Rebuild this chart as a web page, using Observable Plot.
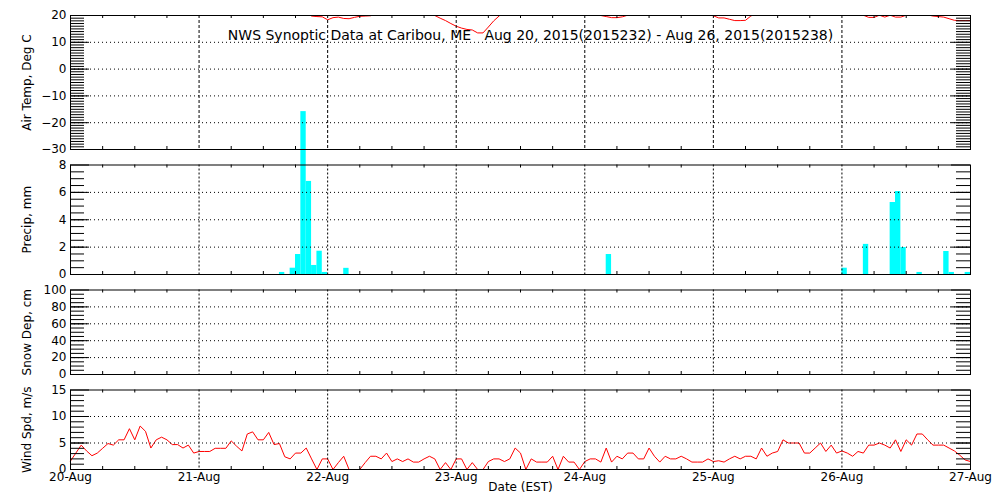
<!DOCTYPE html>
<html><head><meta charset="utf-8">
<script src="https://cdn.jsdelivr.net/npm/d3@7"></script>
<script src="https://cdn.jsdelivr.net/npm/@observablehq/plot@0.6"></script>
<style>
body{margin:0;background:#fff;}
#chart{position:relative;width:1000px;height:500px;background:#fff;}
#chart svg{position:absolute;left:0;top:0;overflow:visible;}
</style></head><body><div id="chart"></div>
<script>
// ---------- data ----------
const startDay = Date.UTC(2015, 7, 20);          // Aug 20 2015, 00:00 EST shown on axis
const HOUR = 3600e3;
const dayTicks = [20, 21, 22, 23, 24, 25, 26, 27].map(d => new Date(Date.UTC(2015, 7, d)));
const dayLabels = ["20-Aug", "21-Aug", "22-Aug", "23-Aug", "24-Aug", "25-Aug", "26-Aug", "27-Aug"];
const title = "NWS Synoptic Data at Caribou, ME   Aug 20, 2015(2015232) - Aug 26, 2015(2015238)";

// hourly air temperature, deg C (hour 0 = Aug 20 00:00)
const airTemp = [
  22.5,22.0,21.6,21.3,21.0,20.8,21.2,22.5,24.0,25.5,26.8,27.9,28.6,29.1,29.4,29.3,28.8,27.9,26.6,25.2,24.3,23.6,22.9,22.4,
  22.0,21.7,21.4,21.2,21.0,21.3,22.0,23.1,24.4,25.6,26.5,27.2,27.5,27.3,26.8,26.0,24.6,23.5,22.8,22.2,20.8,19.8,19.6,19.5,
  18.4,19.2,19.4,18.9,18.8,19.3,19.7,19.8,19.9,20.5,21.5,22.5,23.2,23.8,24.0,23.6,22.8,22.0,21.4,20.8,20.0,19.0,18.1,17.0,
  16.0,15.3,14.8,14.6,13.5,13.5,15.7,18.0,19.8,21.5,23.0,24.5,25.8,26.8,27.5,27.9,28.0,27.6,26.8,25.6,24.3,23.3,22.5,21.8,
  21.2,20.8,20.4,20.0,19.6,19.2,19.2,19.5,20.1,21.5,23.0,24.6,26.0,27.2,28.0,28.5,28.6,28.2,27.4,26.0,24.5,23.0,21.8,20.8,
  19.9,19.1,19.1,18.6,18.1,18.1,18.2,19.8,20.8,22.5,24.0,25.5,26.6,27.4,27.8,27.6,27.0,26.0,25.0,24.0,23.0,22.2,21.5,21.0,
  20.8,20.6,20.5,20.3,20.1,19.3,19.3,20.1,19.4,20.1,19.4,19.4,20.1,20.6,20.9,20.7,20.2,19.8,19.6,19.4,18.8,18.2,18.1,18.1,
  18.1
];

// hourly precipitation, mm (only the non-zero hours)
const precipHour = [39, 41, 42, 43, 44, 45, 46, 47, 51, 100, 144, 148, 153, 154, 155, 158, 163, 164, 167];
const precipMm   = [0.15, 0.46, 1.46, 11.9, 6.8, 0.66, 1.7, 0.15, 0.45, 1.46, 0.46, 2.2, 5.26, 6.06, 1.97, 0.15, 1.68, 0.15, 0.15];

// hourly wind speed, m/s
const windSpeed = [
  1.6,3.1,4.6,3.5,2.6,3.1,4.0,4.9,4.6,5.6,5.6,7.7,5.6,8.2,7.2,4.05,5.6,6.1,5.6,4.7,4.7,4.05,4.6,3.1,
  3.4,3.4,3.4,4.0,4.0,4.0,5.4,4.4,3.5,6.7,7.1,5.6,5.6,7.0,4.7,4.9,2.4,2.0,3.1,3.1,4.05,2.0,0,2.0,
  2.0,0,1.3,2.5,0,0,0,1.3,2.5,2.5,2.0,3.1,1.5,2.0,1.5,2.0,1.4,1.4,2.0,2.5,2.0,0,1.3,0,
  2.0,2.0,0,1.3,0,0,1.5,2.0,2.0,1.5,2.0,4.05,3.1,0,2.0,1.4,1.4,1.4,2.5,0,2.5,1.4,1.4,0,
  1.5,2.0,2.0,1.4,4.05,1.4,2.5,2.0,3.1,3.1,2.0,2.0,4.05,2.5,1.4,2.5,2.0,2.0,2.5,2.0,1.4,1.4,1.4,2.0,
  1.5,1.65,1.4,2.0,2.5,2.0,2.5,2.5,2.0,4.05,2.5,3.1,3.4,5.6,5.0,5.0,5.0,3.1,3.1,4.05,5.0,3.4,4.6,3.1,
  3.5,3.1,2.5,3.4,3.1,4.6,4.6,5.0,4.6,4.05,5.6,3.4,5.6,4.6,6.7,6.7,5.6,4.6,4.6,4.6,4.05,3.5,2.7,1.8,
  1.5
];

// ---------- tables built from the arrays ----------
const tempRows = airTemp.map((v, i) => ({t: new Date(startDay + i * HOUR), v}));
const windRows = windSpeed.map((v, i) => ({t: new Date(startDay + i * HOUR), v}));
const precipRows = precipHour.map((h, i) => ({
  t0: new Date(startDay + h * HOUR), t1: new Date(startDay + (h + 1) * HOUR), base: 0, mm: precipMm[i]
}));
const sixHourTicks = dayTicks.slice(0, -1).flatMap(d => [6, 12, 18].map(h => new Date(+d + h * HOUR)));
const innerDays = dayTicks.slice(1, -1);

const W = 1000, H = 500, ML = 70, MR = 30, FW = W - ML - MR;

function panel({top, bottom, domain, majors, grid, minors, label, dataMarks, dashX, xAxis = false, extra = []}) {
  const fh = bottom - top;
  return Plot.plot({
    width: W, height: H,
    marginLeft: ML, marginRight: MR, marginTop: top, marginBottom: H - bottom,
    style: {background: "transparent", fontFamily: "DejaVu Sans, sans-serif", fontSize: "12px", color: "black", overflow: "visible"},
    x: xAxis
      ? {type: "utc", domain: [dayTicks[0], dayTicks[dayTicks.length - 1]], ticks: dayTicks,
         tickFormat: d => dayLabels[dayTicks.findIndex(t => +t === +d)], tickSize: 0, tickPadding: 3, label: null}
      : {type: "utc", domain: [dayTicks[0], dayTicks[dayTicks.length - 1]], axis: null},
    y: {domain, ticks: majors, tickSize: 0, tickPadding: 4, label: null},
    marks: [
      ...dataMarks,
      Plot.ruleX(innerDays, {stroke: "black", strokeDasharray: dashX}),
      Plot.ruleY(grid, {stroke: "black", strokeDasharray: "1,3"}),
      Plot.ruleY(minors, {stroke: "black", insetRight: FW - 14}),
      Plot.ruleY(minors, {stroke: "black", insetLeft: FW - 14}),
      Plot.ruleY(majors, {stroke: "black", insetRight: FW - 19}),
      Plot.ruleY(majors, {stroke: "black", insetLeft: FW - 19}),
      Plot.ruleX(sixHourTicks, {stroke: "black", insetTop: fh - 3}),
      Plot.ruleX(sixHourTicks, {stroke: "black", insetBottom: fh - 3}),
      Plot.frame({stroke: "black"}),
      Plot.text([label], {frameAnchor: "left", dx: -43, rotate: -90, textAnchor: "middle", lineAnchor: "middle", fill: "black", fontSize: 12}),
      ...extra
    ]
  });
}

const p1 = panel({
  top: 15, bottom: 149, domain: [-30, 20],
  majors: [-30, -20, -10, 0, 10, 20], grid: [-20, -10, 0, 10], minors: d3.range(-29, 20, 1),
  label: "Air Temp, Deg C", dashX: "3,2",
  dataMarks: [Plot.line(tempRows, {x: "t", y: "v", stroke: "red", strokeWidth: 1, clip: true})],
  extra: [Plot.text([title], {frameAnchor: "top", dx: 10, dy: 15, textAnchor: "middle", fill: "black", fontSize: 14})]
});
const p2 = panel({
  top: 164.5, bottom: 274, domain: [0, 8],
  majors: [0, 2, 4, 6, 8], grid: [2, 4, 6], minors: d3.range(0.5, 8, 0.5),
  label: "Precip, mm", dashX: "2,2",
  dataMarks: [Plot.rect(precipRows, {x1: "t0", x2: "t1", y1: "base", y2: "mm", fill: "#00ffff"})]
});
const p3 = panel({
  top: 289.5, bottom: 374, domain: [0, 100],
  majors: [0, 20, 40, 60, 80, 100], grid: [20, 40, 60, 80], minors: d3.range(5, 100, 5),
  label: "Snow Dep, cm", dashX: "2,2",
  dataMarks: []
});
const p4 = panel({
  top: 389.5, bottom: 469, domain: [0, 15],
  majors: [0, 5, 10, 15], grid: [5, 10], minors: d3.range(1, 15, 1),
  label: "Wind Spd, m/s", dashX: "2,2", xAxis: true,
  dataMarks: [Plot.line(windRows, {x: "t", y: "v", stroke: "red", strokeWidth: 1})],
  extra: [Plot.text(["Date (EST)"], {frameAnchor: "bottom", dy: 21, textAnchor: "middle", fill: "black", fontSize: 12})]
});

const chart = document.getElementById("chart");
[p4, p3, p2, p1].forEach(s => chart.appendChild(s));
</script>
</body></html>
